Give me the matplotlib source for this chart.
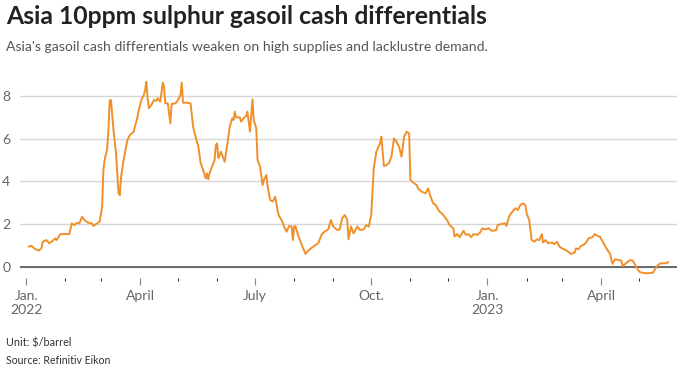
import pandas as pd
import matplotlib.pyplot as plt
import matplotlib.dates as mdates

# values ($/barrel)
dates = [
    "2022-01-03", "2022-01-05", "2022-01-08", "2022-01-11", "2022-01-13", "2022-01-14",
    "2022-01-17", "2022-01-19", "2022-01-21", "2022-01-24", "2022-01-25", "2022-01-28",
    "2022-02-01", "2022-02-04", "2022-02-06", "2022-02-08", "2022-02-10", "2022-02-12",
    "2022-02-14", "2022-02-16", "2022-02-19", "2022-02-22", "2022-02-23", "2022-02-26",
    "2022-02-28", "2022-03-02", "2022-03-03", "2022-03-04", "2022-03-06", "2022-03-07",
    "2022-03-08", "2022-03-09", "2022-03-11", "2022-03-13", "2022-03-15", "2022-03-16",
    "2022-03-17", "2022-03-19", "2022-03-22", "2022-03-24", "2022-03-27", "2022-03-30",
    "2022-03-31", "2022-04-02", "2022-04-04", "2022-04-05", "2022-04-06", "2022-04-07",
    "2022-04-08", "2022-04-10", "2022-04-12", "2022-04-14", "2022-04-15", "2022-04-17",
    "2022-04-19", "2022-04-20", "2022-04-21", "2022-04-23", "2022-04-25", "2022-04-26",
    "2022-04-29", "2022-05-01", "2022-05-03", "2022-05-04", "2022-05-05", "2022-05-08",
    "2022-05-11", "2022-05-13", "2022-05-16", "2022-05-17", "2022-05-19", "2022-05-21",
    "2022-05-23", "2022-05-24", "2022-05-25", "2022-05-26", "2022-05-28", "2022-05-30",
    "2022-05-31", "2022-06-01", "2022-06-02", "2022-06-04", "2022-06-07", "2022-06-09",
    "2022-06-11", "2022-06-13", "2022-06-14", "2022-06-15", "2022-06-16", "2022-06-19",
    "2022-06-20", "2022-06-22", "2022-06-24", "2022-06-25", "2022-06-27", "2022-06-29",
    "2022-06-30", "2022-07-02", "2022-07-03", "2022-07-05", "2022-07-07", "2022-07-08",
    "2022-07-10", "2022-07-11", "2022-07-13", "2022-07-15", "2022-07-17", "2022-07-19",
    "2022-07-20", "2022-07-22", "2022-07-24", "2022-07-26", "2022-07-28", "2022-07-30",
    "2022-07-31", "2022-08-01", "2022-08-02", "2022-08-04", "2022-08-07", "2022-08-10",
    "2022-08-12", "2022-08-16", "2022-08-20", "2022-08-23", "2022-08-25", "2022-08-28",
    "2022-08-30", "2022-09-01", "2022-09-04", "2022-09-06", "2022-09-08", "2022-09-10",
    "2022-09-12", "2022-09-13", "2022-09-15", "2022-09-17", "2022-09-20", "2022-09-22",
    "2022-09-25", "2022-09-27", "2022-09-29", "2022-10-01", "2022-10-03", "2022-10-05",
    "2022-10-08", "2022-10-09", "2022-10-11", "2022-10-13", "2022-10-15", "2022-10-17",
    "2022-10-19", "2022-10-21", "2022-10-23", "2022-10-25", "2022-10-27", "2022-10-29",
    "2022-10-31", "2022-11-01", "2022-11-04", "2022-11-06", "2022-11-07", "2022-11-10",
    "2022-11-13", "2022-11-15", "2022-11-17", "2022-11-19", "2022-11-21", "2022-11-24",
    "2022-11-26", "2022-11-28", "2022-11-30", "2022-12-02", "2022-12-05", "2022-12-06",
    "2022-12-08", "2022-12-10", "2022-12-13", "2022-12-15", "2022-12-17", "2022-12-19",
    "2022-12-21", "2022-12-24", "2022-12-26", "2022-12-28", "2022-12-30", "2023-01-02",
    "2023-01-04", "2023-01-06", "2023-01-08", "2023-01-09", "2023-01-12", "2023-01-15",
    "2023-01-16", "2023-01-18", "2023-01-20", "2023-01-23", "2023-01-25", "2023-01-27",
    "2023-01-29", "2023-01-31", "2023-02-01", "2023-02-03", "2023-02-05", "2023-02-07",
    "2023-02-09", "2023-02-11", "2023-02-13", "2023-02-14", "2023-02-16", "2023-02-18",
    "2023-02-21", "2023-02-23", "2023-02-25", "2023-02-27", "2023-03-01", "2023-03-04",
    "2023-03-06", "2023-03-08", "2023-03-11", "2023-03-12", "2023-03-14", "2023-03-16",
    "2023-03-18", "2023-03-20", "2023-03-22", "2023-03-25", "2023-03-27", "2023-03-29",
    "2023-03-31", "2023-04-03", "2023-04-04", "2023-04-06", "2023-04-08", "2023-04-10",
    "2023-04-12", "2023-04-15", "2023-04-17", "2023-04-18", "2023-04-20", "2023-04-22",
    "2023-04-24", "2023-04-26", "2023-04-28", "2023-05-01", "2023-05-03", "2023-05-07",
    "2023-05-12", "2023-05-14", "2023-05-16", "2023-05-18", "2023-05-22", "2023-05-24",
]
values = [
    0.94, 0.98, 0.83, 0.75, 0.88, 1.17,
    1.25, 1.10, 1.17, 1.33, 1.25, 1.53,
    1.53, 1.53, 2.03, 1.95, 2.06, 2.03,
    2.34, 2.19, 2.06, 2.03, 1.91, 2.03,
    2.11, 2.81, 4.53, 5.00, 5.55, 6.40,
    7.81, 7.81, 6.40, 5.32, 3.44, 3.36,
    4.22, 5.00, 5.94, 6.17, 6.33, 7.03,
    7.35, 7.81, 8.05, 8.28, 8.67, 7.90,
    7.43, 7.58, 7.81, 7.78, 7.90, 7.74,
    8.63, 8.44, 7.66, 7.66, 6.72, 7.63,
    7.66, 7.81, 8.05, 8.63, 7.69, 7.69,
    7.66, 6.56, 5.86, 5.70, 4.85, 4.53,
    4.14, 4.38, 4.10, 4.38, 4.69, 5.00,
    5.70, 5.78, 5.08, 5.39, 4.92, 5.70,
    6.56, 6.96, 6.88, 7.27, 7.00, 7.00,
    6.80, 6.96, 7.07, 7.27, 6.33, 7.85,
    6.88, 6.49, 5.00, 4.69, 3.83, 4.06,
    4.30, 3.75, 3.13, 3.05, 3.28, 2.58,
    2.38, 2.19, 1.88, 1.64, 1.91, 1.88,
    1.25, 1.88, 1.91, 1.49, 1.02, 0.60,
    0.75, 0.94, 1.10, 1.53, 1.64, 1.75,
    2.19, 1.88, 1.72, 1.75, 2.27, 2.42,
    2.22, 1.28, 1.88, 1.56, 1.88, 1.72,
    1.75, 1.95, 1.88, 2.42, 4.61, 5.39,
    5.78, 6.10, 4.72, 4.77, 4.85, 5.16,
    6.02, 5.86, 5.63, 5.16, 6.10, 6.33,
    6.25, 4.06, 3.91, 3.83, 3.67, 3.52,
    3.44, 3.67, 3.28, 2.97, 2.89, 2.58,
    2.50, 2.34, 2.19, 1.95, 1.80, 1.41,
    1.53, 1.38, 1.68, 1.49, 1.53, 1.38,
    1.53, 1.49, 1.59, 1.80, 1.75, 1.80,
    1.69, 1.69, 1.72, 1.95, 2.00, 2.03,
    1.91, 2.34, 2.53, 2.74, 2.66, 2.89,
    2.97, 2.89, 2.50, 2.19, 1.25, 1.17,
    1.28, 1.25, 1.53, 1.13, 1.25, 1.10,
    1.13, 1.06, 1.17, 0.94, 0.86, 0.78,
    0.70, 0.60, 0.66, 0.86, 0.82, 0.97,
    1.02, 1.13, 1.33, 1.38, 1.53, 1.44,
    1.41, 1.10, 0.97, 0.78, 0.60, 0.13,
    0.35, 0.31, 0.28, 0.03, 0.13, 0.23,
    0.31, 0.28, 0.08, -0.23, -0.28, -0.31,
    -0.28, -0.08, 0.08, 0.16, 0.16, 0.21,
]

tick_dates = ["2022-01-01", "2022-04-01", "2022-07-01", "2022-10-01", "2023-01-01", "2023-04-01"]
tick_labels = ["Jan.\n2022", "April", "July", "Oct.", "Jan.\n2023", "April"]
y_ticks = [0, 2, 4, 6, 8]

title = "Asia 10ppm sulphur gasoil cash differentials"
subtitle = "Asia's gasoil cash differentials weaken on high supplies and lacklustre demand."
notes = ["Unit: $/barrel", "Source: Refinitiv Eikon"]

plt.rcParams["font.family"] = ["Lato", "DejaVu Sans"]

fig = plt.figure(figsize=(6.85, 3.70), dpi=100)
ax = fig.add_axes([20 / 685, 92 / 370, 657 / 685, 193 / 370])

x = pd.to_datetime(dates)
ax.plot(x, values, color="#f0902a", linewidth=1.4, zorder=3, clip_on=False)

ax.set_xlim(pd.Timestamp("2021-12-27"), pd.Timestamp("2023-05-31"))
ax.set_ylim(-0.53, 8.52)

ax.set_yticks(y_ticks)
ax.set_yticklabels([str(v) for v in y_ticks])
ax.grid(axis="y", color="#d6d6d6", linewidth=1.0)
ax.axhline(0, color="#555555", linewidth=1.2, zorder=2)

ax.set_xticks(pd.to_datetime(tick_dates))
ax.set_xticklabels(tick_labels)
ax.xaxis.set_minor_locator(mdates.MonthLocator(bymonth=[]))

ax.tick_params(axis="y", length=0, pad=7, labelsize=10, labelcolor="#666666")
ax.tick_params(axis="x", length=5, width=0.8, color="#888888", pad=4,
               labelsize=10, labelcolor="#666666")
for label in ax.get_yticklabels():
    label.set_horizontalalignment("right")

for side in ["top", "right", "left", "bottom"]:
    ax.spines[side].set_visible(False)

fig.text(6 / 685, 1 - 16 / 370, title, fontsize=17.8, fontweight="bold",
         color="#222222", va="center", ha="left")
fig.text(6 / 685, 1 - 47 / 370, subtitle, fontsize=10.1, color="#555555",
         va="center", ha="left")
fig.text(6 / 685, 1 - 343 / 370, notes[0], fontsize=7.8, color="#333333",
         va="center", ha="left")
fig.text(6 / 685, 1 - 360 / 370, notes[1], fontsize=7.6, color="#333333",
         va="center", ha="left")

fig.savefig("out.png", dpi=100)
